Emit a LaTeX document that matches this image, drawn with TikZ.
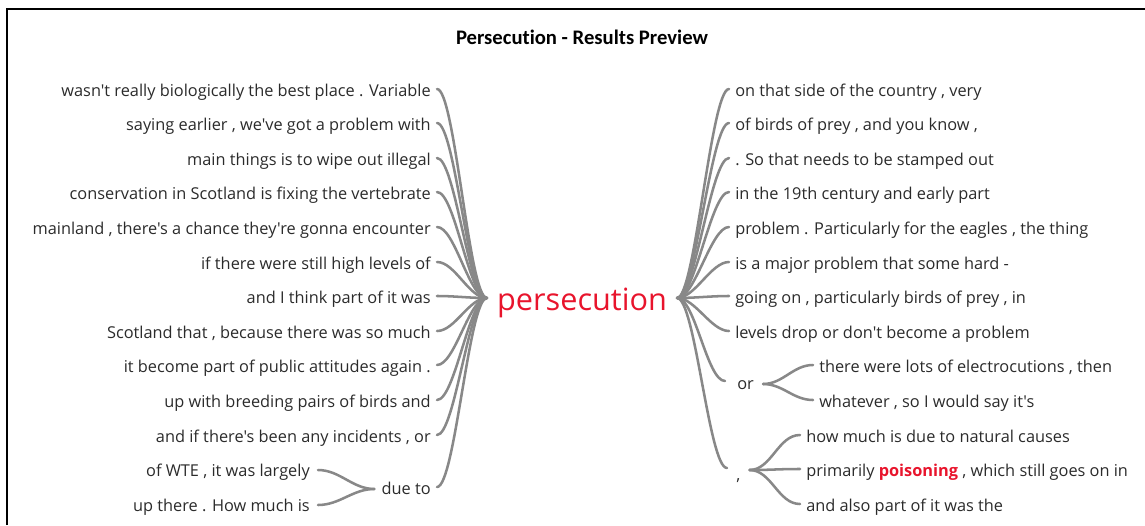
\documentclass[tikz,border=0pt]{standalone}
\usepackage{fontspec}
\setmainfont{Open Sans}[Ligatures=TeXOff]
\newfontfamily\titlefont{Carlito}[Ligatures=CommonOff]
\usetikzlibrary{calc}
\definecolor{txt}{HTML}{2B2B2B}
\definecolor{lnk}{HTML}{888888}
\definecolor{hot}{HTML}{E8142C}
\tikzset{
  leafl/.style={anchor=base east,inner sep=0pt,text=txt,font=\fontsize{12.25pt}{14pt}\selectfont},
  leafr/.style={anchor=base west,inner sep=0pt,text=txt,font=\fontsize{12.25pt}{14pt}\selectfont},
  link/.style={draw=lnk,line width=1.9pt,line cap=round},
}
\begin{document}
\begin{tikzpicture}[x=0.75pt,y=-0.75pt]
\useasboundingbox (0,0) rectangle (1145,525);
\draw[line width=1.5pt] (7,525) -- (7,9) -- (1145,9);
\node[inner sep=0pt,font=\titlefont\bfseries\fontsize{15.5pt}{17pt}\selectfont] (T) at (582,37) {Persecution - Results Preview};
% hub
\node[inner sep=0pt,text=hot,font=\fontsize{23pt}{26pt}\selectfont,anchor=base] (P) at (582,310) {persecution};
\coordinate (HL) at ($(P.base west)+(-10,-12)$);
\coordinate (HR) at ($(P.base east)+(10,-12)$);
% left leaves
\node[leafl] (L1) at (431,96) {wasn't really biologically the best place . Variable};
\node[leafl] (L2) at (431,130) {saying earlier , we've got a problem with};
\node[leafl] (L3) at (431,165) {main things is to wipe out illegal};
\node[leafl] (L4) at (431,199) {conservation in Scotland is fixing the vertebrate};
\node[leafl] (L5) at (431,234) {mainland , there's a chance they're gonna encounter};
\node[leafl] (L6) at (431,269) {if there were still high levels of};
\node[leafl] (L7) at (431,303) {and I think part of it was};
\node[leafl] (L8) at (431,338) {Scotland that , because there was so much};
\node[leafl] (L9) at (431,372) {it become part of public attitudes again .};
\node[leafl] (L10) at (431,407) {up with breeding pairs of birds and};
\node[leafl] (L11) at (431,442) {and if there's been any incidents , or};
\node[leafl] (L12) at (431,494) {due to};
\node[leafl] (L12a) at (310,476) {of WTE , it was largely};
\node[leafl] (L12b) at (310,511) {up there . How much is};
\foreach \n in {L1,L2,L3,L4,L5,L6,L7,L8,L9,L10,L11,L12}{
  \draw[link] ($(\n.base east)+(6,-7)$) .. controls +(18,0) and +(-18,0) .. (HL);
}
\coordinate (DJ) at ($(L12.base west)+(-7,-5)$);
\draw[link] ($(L12a.base east)+(8,-6)$) .. controls +(22,0) and +(-22,0) .. (DJ);
\draw[link] ($(L12b.base east)+(8,-6)$) .. controls +(22,0) and +(-22,0) .. (DJ);
% right leaves
\node[leafr] (R1) at (735,96) {on that side of the country , very};
\node[leafr] (R2) at (735,130) {of birds of prey , and you know ,};
\node[leafr] (R3) at (735,165) {. So that needs to be stamped out};
\node[leafr] (R4) at (735,199) {in the 19th century and early part};
\node[leafr] (R5) at (735,234) {problem . Particularly for the eagles , the thing};
\node[leafr] (R6) at (735,269) {is a major problem that some hard -};
\node[leafr] (R7) at (735,303) {going on , particularly birds of prey , in};
\node[leafr] (R8) at (735,338) {levels drop or don't become a problem};
\node[leafr] (R9) at (737,389) {or};
\node[leafr] (R10) at (736,480) {,};
\foreach \n in {R1,R2,R3,R4,R5,R6,R7,R8}{
  \draw[link] (HR) .. controls +(18,0) and +(-18,0) .. ($(\n.base west)+(-6,-7)$);
}
\draw[link] (HR) .. controls +(18,0) and +(-18,0) .. ($(R9.base west)+(-12,-8)$);
\draw[link] (HR) .. controls +(18,0) and +(-18,0) .. ($(R10.base west)+(-9,-12)$);
% or sub-leaves
\node[leafr] (O1) at (819,372) {there were lots of electrocutions , then};
\node[leafr] (O2) at (819,407) {whatever , so I would say it's};
\coordinate (OJ) at ($(R9.base east)+(9,-5)$);
\draw[link] (OJ) .. controls +(20,0) and +(-20,0) .. ($(O1.base west)+(-6,-7)$);
\draw[link] (OJ) .. controls +(20,0) and +(-20,0) .. ($(O2.base west)+(-6,-7)$);
% comma sub-leaves
\node[leafr] (C1) at (806,442) {how much is due to natural causes};
\node[leafr] (C2) at (806,476) {primarily \textcolor{hot}{\bfseries poisoning} , which still goes on in};
\node[leafr] (C3) at (806,511) {and also part of it was the};
\coordinate (CJ) at ($(R10.base east)+(9,-10)$);
\draw[link] (CJ) .. controls +(22,0) and +(-22,0) .. ($(C1.base west)+(-6,-7)$);
\draw[link] (CJ) .. controls +(22,0) and +(-22,0) .. ($(C2.base west)+(-6,-7)$);
\draw[link] (CJ) .. controls +(22,0) and +(-22,0) .. ($(C3.base west)+(-6,-7)$);
\end{tikzpicture}
\end{document}
